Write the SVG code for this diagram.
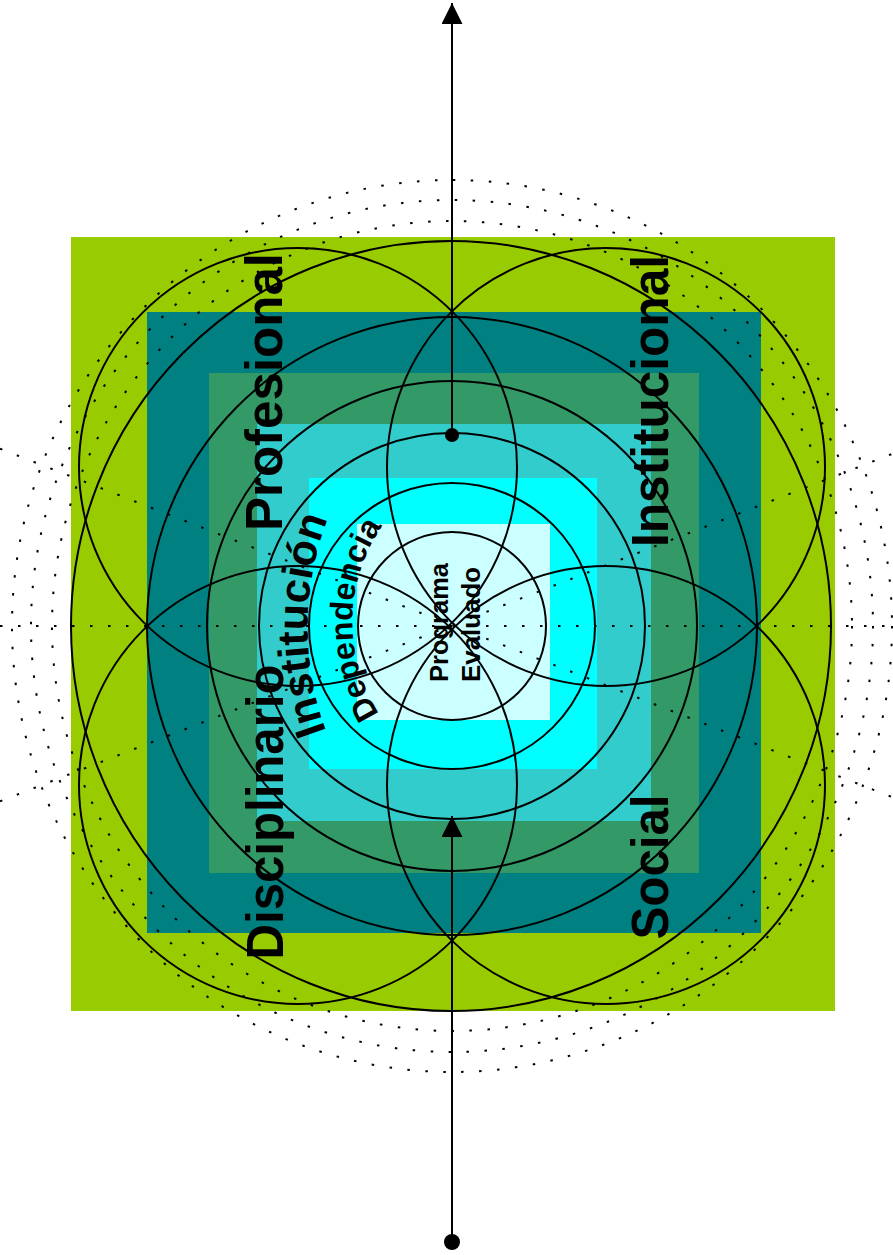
<svg xmlns="http://www.w3.org/2000/svg" width="893" height="1255" viewBox="0 0 893 1255">
<defs>
<style>
.ln{fill:none;stroke:#000;stroke-width:2}
.dt{fill:none;stroke:#000;stroke-width:2;stroke-dasharray:2.5 15.5}
.lbl{font-family:"Liberation Sans",Arial,sans-serif;font-weight:bold;fill:#000}
.big{font-size:52px}
.sm{font-size:26px}
</style>
<marker id="arr" markerUnits="userSpaceOnUse" markerWidth="22" markerHeight="22" refX="21" refY="10.5" orient="auto">
<path d="M0,0 L21,10.5 L0,21 Z" fill="#000"/>
</marker>
<path id="pInst" d="M 333 748 A 300 300 0 0 1 335 502"/>
<path id="pDep" d="M 382 718 A 170 170 0 0 1 385 522"/>
</defs>
<rect width="893" height="1255" fill="#fff"/>
<g id="levels">
<rect id="lvl-outer" x="71" y="237" width="764" height="774" fill="#99CC00"/>
<rect id="lvl-teal" x="147" y="312" width="614" height="621" fill="#008080"/>
<rect id="lvl-sea" x="209" y="373" width="490" height="500" fill="#339966"/>
<rect id="lvl-turq" x="257" y="424" width="394" height="397" fill="#33CCCC"/>
<rect id="lvl-cyan" x="309" y="478" width="288" height="291" fill="#00FFFF"/>
<rect id="lvl-light" x="357" y="524" width="193" height="196" fill="#CCFFFF"/>
</g>
<g id="dotted">
<ellipse class="dt" cx="452" cy="626" rx="440" ry="446"/>
<ellipse class="dt" cx="452" cy="626" rx="421" ry="426"/>
<ellipse class="dt" cx="452" cy="626" rx="400" ry="405"/>
<line class="dt" x1="0" y1="626" x2="893" y2="626"/>
<line class="dt" x1="0" y1="448.7" x2="893" y2="797.4"/>
<line class="dt" x1="0" y1="801.3" x2="893" y2="453.6"/>
</g>
<g id="rings">
<circle class="ln" cx="452" cy="626" r="94"/>
<circle class="ln" cx="452" cy="626" r="143"/>
<circle class="ln" cx="452" cy="626" r="193"/>
<circle class="ln" cx="452" cy="626" r="245"/>
<ellipse class="ln" cx="452" cy="626" rx="305" ry="309"/>
<ellipse class="ln" cx="451" cy="626" rx="380" ry="385"/>
<circle class="ln" cx="298" cy="467" r="219"/>
<circle class="ln" cx="606" cy="467" r="219"/>
<circle class="ln" cx="298" cy="785" r="219"/>
<circle class="ln" cx="606" cy="785" r="219"/>
</g>
<g id="connectors">
<line class="ln" x1="452" y1="435" x2="452" y2="3" marker-end="url(#arr)"/>
<circle cx="452" cy="435" r="7" fill="#000"/>
<line class="ln" x1="452" y1="1242" x2="452" y2="816" marker-end="url(#arr)"/>
<circle cx="452" cy="1242" r="8" fill="#000"/>
</g>
<g id="node-profesional"><text class="lbl big" text-anchor="middle" textLength="278" lengthAdjust="spacingAndGlyphs" transform="translate(282,392) rotate(-90)">Profesional</text></g>
<g id="node-institucional"><text class="lbl big" text-anchor="middle" textLength="292" lengthAdjust="spacingAndGlyphs" transform="translate(668,401) rotate(-90)">Institucional</text></g>
<g id="node-disciplinario"><text class="lbl big" text-anchor="middle" textLength="295" lengthAdjust="spacingAndGlyphs" transform="translate(283,812) rotate(-90)">Disciplinario</text></g>
<g id="node-social"><text class="lbl big" text-anchor="middle" textLength="145" lengthAdjust="spacingAndGlyphs" transform="translate(668,867) rotate(-90)">Social</text></g>
<g id="node-institucion"><text class="lbl" font-size="43"><textPath href="#pInst" startOffset="50%" text-anchor="middle">Institución</textPath></text></g>
<g id="node-dependencia"><text class="lbl" font-size="32"><textPath href="#pDep" startOffset="50%" text-anchor="middle">Dependencia</textPath></text></g>
<g id="node-programa">
<text class="lbl sm" text-anchor="middle" textLength="119" lengthAdjust="spacingAndGlyphs" transform="translate(448,622.5) rotate(-90)">Programa</text>
<text class="lbl sm" text-anchor="middle" textLength="115" lengthAdjust="spacingAndGlyphs" transform="translate(480,624.5) rotate(-90)">Evaluado</text>
</g>
</svg>
